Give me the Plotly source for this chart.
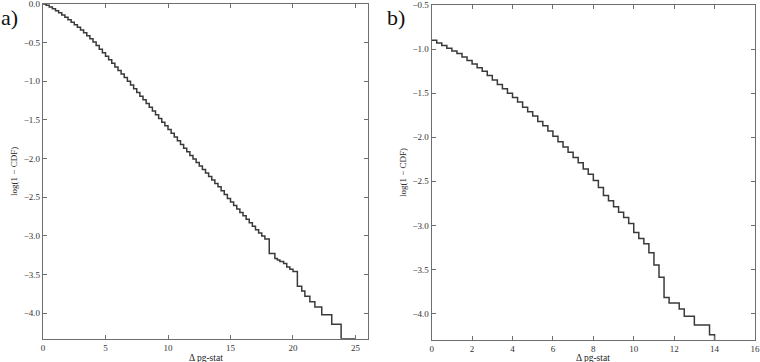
import plotly.graph_objects as go

# ── Data ─────────────────────────────────────────────────────────────────────
# Panel a: step curve of log(1 - CDF) against Δ pg-stat
a_x = [0.00, 0.25, 0.50, 0.75, 1.00, 1.25, 1.50, 1.75, 2.00, 2.25, 2.50, 2.75,
       3.00, 3.25, 3.50, 3.75, 4.00, 4.25, 4.50, 4.75, 5.00, 5.25, 5.50, 5.75,
       6.00, 6.25, 6.50, 6.75, 7.00, 7.25, 7.50, 7.75, 8.00, 8.25, 8.50, 8.75,
       9.00, 9.25, 9.50, 9.75, 10.00, 10.25, 10.50, 10.75, 11.00, 11.25, 11.50,
       11.75, 12.00, 12.25, 12.50, 12.75, 13.00, 13.25, 13.50, 13.75, 14.00,
       14.25, 14.50, 14.75, 15.00, 15.25, 15.50, 15.75, 16.00, 16.25, 16.50,
       16.75, 17.00, 17.25, 17.50, 17.75, 18.10, 18.55, 18.75, 18.95, 19.25,
       19.50, 19.75, 20.00, 20.35, 20.70, 20.95, 21.35, 21.75, 22.30, 23.10,
       23.85, 25.00]
a_y = [0.000, -0.018, -0.040, -0.063, -0.088, -0.115, -0.143, -0.172, -0.203,
       -0.235, -0.268, -0.302, -0.337, -0.373, -0.410, -0.450, -0.492, -0.538,
       -0.584, -0.630, -0.676, -0.722, -0.768, -0.814, -0.860, -0.906, -0.952,
       -1.000, -1.048, -1.096, -1.144, -1.192, -1.240, -1.288, -1.336, -1.384,
       -1.432, -1.480, -1.528, -1.576, -1.624, -1.672, -1.720, -1.768, -1.816,
       -1.864, -1.912, -1.960, -2.006, -2.050, -2.095, -2.140, -2.185, -2.230,
       -2.275, -2.320, -2.365, -2.415, -2.465, -2.515, -2.560, -2.605, -2.650,
       -2.695, -2.740, -2.785, -2.830, -2.875, -2.920, -2.960, -3.000, -3.040,
       -3.225, -3.290, -3.310, -3.330, -3.355, -3.400, -3.430, -3.460, -3.650,
       -3.710, -3.780, -3.850, -3.920, -4.020, -4.140, -4.330, -4.330]

# Panel b
b_x = [0.00, 0.25, 0.50, 0.75, 1.00, 1.25, 1.50, 1.75, 2.00, 2.25, 2.50, 2.75,
       3.00, 3.25, 3.50, 3.75, 4.00, 4.25, 4.50, 4.75, 5.00, 5.25, 5.50, 5.75,
       6.00, 6.25, 6.50, 6.75, 7.00, 7.25, 7.50, 7.75, 8.00, 8.25, 8.50, 8.75,
       9.00, 9.25, 9.50, 9.75, 10.00, 10.25, 10.50, 10.75, 11.00, 11.25, 11.50,
       11.75, 12.25, 12.50, 13.00, 13.75, 14.00]
b_y = [-0.90, -0.93, -0.96, -0.99, -1.02, -1.05, -1.09, -1.13, -1.17, -1.21,
       -1.25, -1.30, -1.35, -1.40, -1.45, -1.50, -1.55, -1.60, -1.66, -1.71,
       -1.76, -1.82, -1.87, -1.93, -1.99, -2.05, -2.11, -2.17, -2.23, -2.29,
       -2.36, -2.42, -2.49, -2.57, -2.66, -2.72, -2.79, -2.85, -2.91, -2.98,
       -3.08, -3.15, -3.21, -3.31, -3.45, -3.59, -3.82, -3.88, -3.95, -4.03,
       -4.13, -4.24, -4.30]

a_xticks = [0, 5, 10, 15, 20, 25]
b_xticks = [0, 2, 4, 6, 8, 10, 12, 14, 16]
a_yticks = [0.0, -0.5, -1.0, -1.5, -2.0, -2.5, -3.0, -3.5, -4.0]
b_yticks = [-0.5, -1.0, -1.5, -2.0, -2.5, -3.0, -3.5, -4.0]

LINE = "#3a3a3a"
FRAME = "#6e6e6e"
SERIF = "Liberation Serif, DejaVu Serif, serif"

fig = go.Figure()
fig.add_trace(go.Scatter(x=a_x, y=a_y, mode="lines", line_shape="hv",
                         line=dict(color=LINE, width=1.5),
                         xaxis="x", yaxis="y", showlegend=False))
fig.add_trace(go.Scatter(x=b_x, y=b_y, mode="lines", line_shape="hv",
                         line=dict(color=LINE, width=1.5),
                         xaxis="x2", yaxis="y2", showlegend=False))

axis_common = dict(
    showgrid=False, zeroline=False, showline=True, mirror="allticks",
    linecolor=FRAME, linewidth=1.2, ticks="inside", ticklen=4,
    tickcolor=FRAME, tickfont=dict(family=SERIF, size=9, color="#333"),
    ticklabeloverflow="allow", automargin=False,
)

fig.update_layout(
    width=760, height=362,
    margin=dict(l=0, r=0, t=0, b=0),
    paper_bgcolor="white", plot_bgcolor="white",
    font=dict(family=SERIF, color="#222"),
    xaxis=dict(domain=[0.0566, 0.4842], range=[0, 26], tickvals=a_xticks,
               ticklabelstandoff=0, anchor="y", **axis_common),
    yaxis=dict(domain=[0.064, 0.989], range=[-4.33, 0], tickvals=a_yticks,
               tickformat=".1f",
               title=dict(text="log(1 − CDF)", font=dict(size=9), standoff=4),
               anchor="x", **axis_common),
    xaxis2=dict(domain=[0.568, 0.9934], range=[0, 16], tickvals=b_xticks,
                ticklabelstandoff=0, anchor="y2", **axis_common),
    yaxis2=dict(domain=[0.061, 0.986], range=[-4.30, -0.5],
                tickvals=b_yticks, tickformat=".1f",
                title=dict(text="log(1 − CDF)", font=dict(size=9), standoff=4),
                anchor="x2", **axis_common),
)

# x titles sit below the tick labels, in the zero-width bottom margin
for xc in [(0.0566 + 0.4842) / 2, (0.568 + 0.9934) / 2]:
    fig.add_annotation(text="Δ pg-stat", x=xc, y=1 - 357.5 / 362,
                       xref="paper", yref="paper", xanchor="center",
                       yanchor="middle", showarrow=False,
                       font=dict(family=SERIF, size=9.5, color="#222"))

fig.add_annotation(text="a)", x=9 / 760, y=1 - 17 / 362, xref="paper",
                   yref="paper", xanchor="center", yanchor="middle",
                   showarrow=False, font=dict(family=SERIF, size=22, color="#111"))
fig.add_annotation(text="b)", x=396 / 760, y=1 - 17 / 362, xref="paper",
                   yref="paper", xanchor="center", yanchor="middle",
                   showarrow=False, font=dict(family=SERIF, size=22, color="#111"))

# the page's default 8px body margin would shift the whole figure
fig.write_html("out.html", config={"displayModeBar": False},
               post_script="document.body.style.margin='0';")
